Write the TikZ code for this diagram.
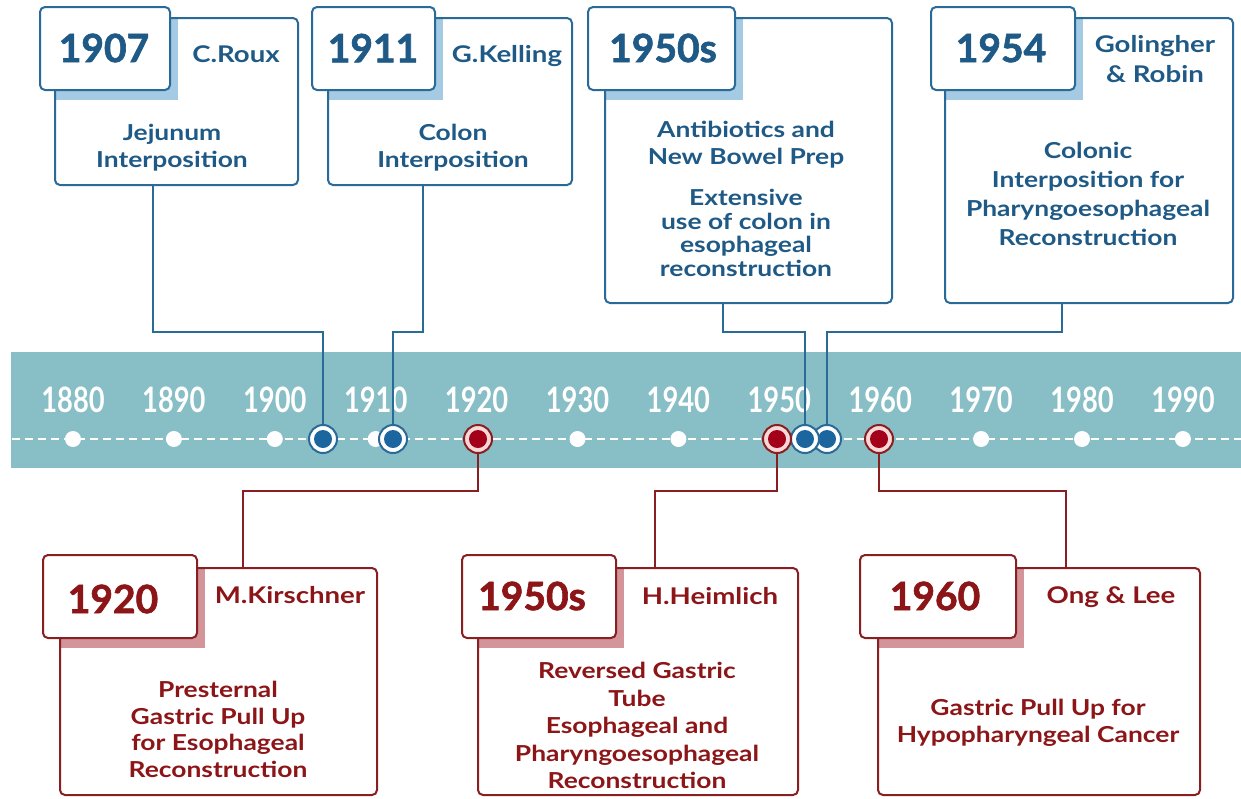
\documentclass[tikz,border=0pt]{standalone}
\usepackage{fontspec}
\setmainfont{Lato}
\newfontfamily\txtfont[FakeStretch=1.2]{Lato}
\newfontfamily\axisfont[FakeStretch=0.78]{Lato}
\newfontfamily\yearfont[BoldFeatures={FakeBold=1.6}]{Lato}
\usetikzlibrary{calc}
\definecolor{bline}{HTML}{2A6A98}
\definecolor{btext}{HTML}{1F5A86}
\definecolor{bshadow}{HTML}{A5CAE3}
\definecolor{bfill}{HTML}{1C66A0}
\definecolor{rline}{HTML}{8A1F22}
\definecolor{rtext}{HTML}{8C1518}
\definecolor{rshadow}{HTML}{D3959A}
\definecolor{rfill}{HTML}{A3001A}
\definecolor{rpink}{HTML}{F7D8D8}
\definecolor{bandc}{HTML}{88BEC6}
\tikzset{
  bmain/.style={draw=bline, line width=2pt, rounded corners=5pt, inner sep=0pt},
  rmain/.style={draw=rline, line width=2pt, rounded corners=5pt, inner sep=0pt},
  btab/.style={draw=bline, fill=white, line width=2pt, rounded corners=5pt, inner sep=0pt, minimum height=83pt},
  rtab/.style={draw=rline, fill=white, line width=2pt, rounded corners=5pt, inner sep=0pt, minimum height=83pt},
  byear/.style={text=btext, font=\yearfont\bfseries\fontsize{39}{40}\selectfont, inner sep=0pt},
  ryear/.style={text=rtext, font=\yearfont\bfseries\fontsize{39}{40}\selectfont, inner sep=0pt},
  bname/.style={text=btext, font=\txtfont\bfseries\fontsize{23}{30}\selectfont, inner sep=0pt, anchor=base, align=center},
  rname/.style={text=rtext, font=\txtfont\bfseries\fontsize{23}{30}\selectfont, inner sep=0pt, anchor=base, align=center},
  bbody/.style={text=btext, inner sep=0pt, anchor=north, align=center},
  rbody/.style={text=rtext, inner sep=0pt, anchor=north, align=center},
  bconn/.style={draw=bline, line width=2pt},
  rconn/.style={draw=rline, line width=2pt},
  bmark/.style={circle, draw=bline, line width=2pt, fill=white, minimum size=28pt, inner sep=0pt,
    path picture={\fill[bfill] (path picture bounding box.center) circle (9pt);}},
  rmark/.style={circle, draw=rline, line width=2pt, fill=rpink, minimum size=28pt, inner sep=0pt,
    path picture={\fill[rfill] (path picture bounding box.center) circle (9pt);}},
  axislabel/.style={text=white, font=\axisfont\bfseries\fontsize{35}{36}\selectfont, inner sep=0pt, anchor=base},
  tickdot/.style={circle, fill=white, minimum size=16pt, inner sep=0pt},
}
\newcommand{\bodyf}[1]{\txtfont\bfseries\fontsize{22}{#1}\selectfont}
\begin{document}
\begin{tikzpicture}[x=1pt,y=-1pt]
\useasboundingbox (0,0) rectangle (1241,798);
% band
\fill[bandc] (11,352) rectangle (1241,468);
\foreach \i/\yr in {0/1880,1/1890,2/1900,3/1910,4/1920,5/1930,6/1940,7/1950,8/1960,9/1970,10/1980,11/1990}{
  \node[axislabel] (a\yr) at (73+100.9*\i,412) {\yr};
}
\draw[white, line width=2.5pt, dash pattern=on 8pt off 5pt] (12,439) -- (1241,439);
\foreach \i/\yr in {0/1880,1/1890,2/1900,3/1910,4/1920,5/1930,6/1940,7/1950,8/1960,9/1970,10/1980,11/1990}{
  \node[tickdot] (d\yr) at (73+100.9*\i,439) {};
}
% marker positions
\coordinate (m1) at (323,439);
\coordinate (m2) at (393,439);
\coordinate (m3) at (805,439);
\coordinate (m4) at (827,439);
\coordinate (m5) at (478,439);
\coordinate (m6) at (777,439);
\coordinate (m7) at (879,439);

% ---------- top boxes ----------
% B1
\fill[bshadow] (55,18) rectangle (178,100);
\node[bmain, minimum width=243pt, minimum height=167pt] (b1) at (176.5,101.5) {};
\node[btab, minimum width=130pt] (t1) at (105,48.5) {};
\node[byear] (y1) at (104,48) {1907};
\node[bname] (n1) at (236,62) {C.Roux};
\node[bbody, font=\bodyf{27}] (x1) at (172,124) {Jejunum\\Interposition};
% B2
\fill[bshadow] (328,18) rectangle (443,100);
\node[bmain, minimum width=244pt, minimum height=167pt] (b2) at (450,101.5) {};
\node[btab, minimum width=123pt] (t2) at (373.5,48.5) {};
\node[byear] (y2) at (373,48) {1911};
\node[bname] (n2) at (507,62) {G.Kelling};
\node[bbody, font=\bodyf{27}] (x2) at (453,124) {Colon\\Interposition};
% B3
\fill[bshadow] (605,18) rectangle (743,100);
\node[bmain, minimum width=287pt, minimum height=285pt] (b3) at (748.5,160.5) {};
\node[btab, minimum width=147pt] (t3) at (661.5,48.5) {};
\node[byear] (y3) at (663,48) {1950s};
\node[bbody, font=\bodyf{27}] (x3) at (746,121) {Antibiotics and\\New Bowel Prep};
\node[bbody, font=\bodyf{23.5}] (x3b) at (746,189) {Extensive\\use of colon in\\esophageal\\reconstruction};
% B4
\fill[bshadow] (945,18) rectangle (1083,100);
\node[bmain, minimum width=288pt, minimum height=285pt] (b4) at (1089,160.5) {};
\node[btab, minimum width=144pt] (t4) at (1003,48.5) {};
\node[byear] (y4) at (1001,48) {1954};
\node[bname] (n4) at (1155,82) {Golingher\\\& Robin};
\node[bbody, font=\bodyf{29}] (x4) at (1088,142) {Colonic\\Interposition for\\Pharyngoesophageal\\Reconstruction};

% ---------- bottom boxes ----------
% B5
\fill[rshadow] (60,568) rectangle (205,648);
\node[rmain, minimum width=317pt, minimum height=227pt] (b5) at (218.5,681.5) {};
\node[rtab, minimum width=154pt] (t5) at (120,596.5) {};
\node[ryear] (y5) at (113,599) {1920};
\node[rname] (n5) at (290,603) {M.Kirschner};
\node[rbody, font=\bodyf{26.5}] (x5) at (218,681) {Presternal\\Gastric Pull Up\\for Esophageal\\Reconstruction};
% B6
\fill[rshadow] (478,568) rectangle (624,648);
\node[rmain, minimum width=320pt, minimum height=227pt] (b6) at (638,681.5) {};
\node[rtab, minimum width=154pt] (t6) at (539,596.5) {};
\node[ryear] (y6) at (532,596) {1950s};
\node[rname] (n6) at (710,604) {H.Heimlich};
\node[rbody, font=\bodyf{27.5}] (x6) at (637,662) {Reversed Gastric\\Tube\\Esophageal and\\Pharyngoesophageal\\Reconstruction};
% B7
\fill[rshadow] (878,568) rectangle (1024,648);
\node[rmain, minimum width=322pt, minimum height=227pt] (b7) at (1039,681.5) {};
\node[rtab, minimum width=156pt] (t7) at (938,596.5) {};
\node[ryear] (y7) at (935,596) {1960};
\node[rname] (n7) at (1111,603) {Ong \& Lee};
\node[rbody, font=\bodyf{27}] (x7) at (1038,699) {Gastric Pull Up for\\Hypopharyngeal Cancer};

% ---------- connectors ----------
\coordinate (k1) at (153,332);
\coordinate (k2) at (423,332);
\coordinate (k3) at (723,332);
\coordinate (k4) at (1062,332);
\draw[bconn] (b1.south -| k1) -- (k1) -| (m1);
\draw[bconn] (b2.south -| k2) -- (k2) -| (m2);
\draw[bconn] (b3.south -| k3) -- (k3) -| (m3);
\draw[bconn] (b4.south -| k4) -- (k4) -| (m4);
\coordinate (k5) at (243,491);
\coordinate (k6) at (655,491);
\coordinate (k7) at (1066,491);
\draw[rconn] (m5) |- (k5) -- (k5 |- b5.north);
\draw[rconn] (m6) |- (k6) -- (k6 |- b6.north);
\draw[rconn] (m7) |- (k7) -- (k7 |- b7.north);

% ---------- markers ----------
\node[bmark] (mk1) at (m1) {};
\node[bmark] (mk2) at (m2) {};
\node[rmark] (mk5) at (m5) {};
\node[bmark] (mk4) at (m4) {};
\node[bmark] (mk3) at (m3) {};
\node[rmark] (mk6) at (m6) {};
\node[rmark] (mk7) at (m7) {};
\end{tikzpicture}
\end{document}
